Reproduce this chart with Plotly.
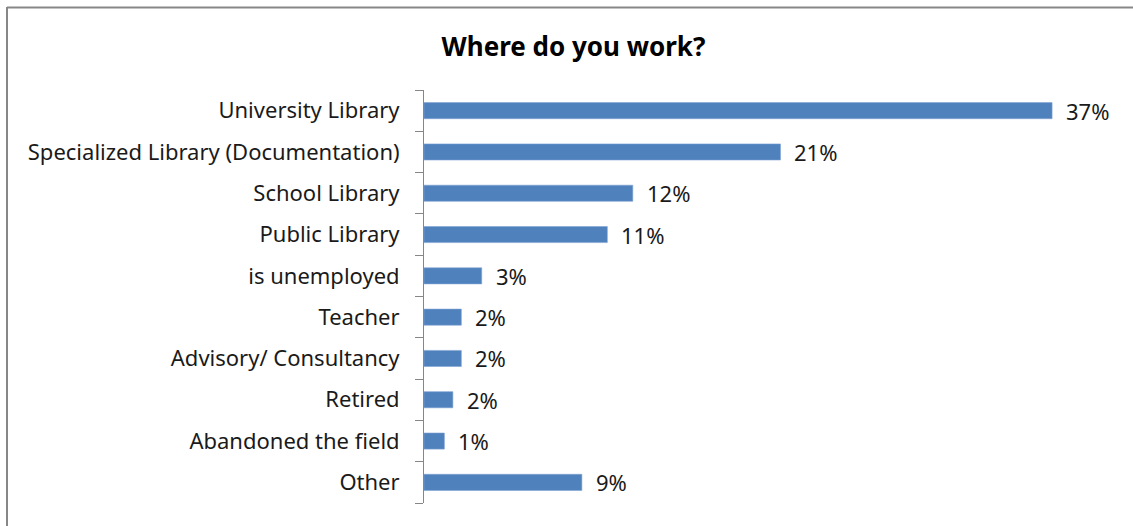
import plotly.graph_objects as go

categories = ["University Library", "Specialized Library (Documentation)", "School Library",
              "Public Library", "is unemployed", "Teacher", "Advisory/ Consultancy",
              "Retired", "Abandoned the field", "Other"]
values = [37.0, 21.0, 12.3, 10.8, 3.4, 2.2, 2.2, 1.7, 1.2, 9.3]
labels = ["37%", "21%", "12%", "11%", "3%", "2%", "2%", "2%", "1%", "9%"]

FONT = "Noto Sans"
W, H = 1133, 526
L, R, T, B = 424, 30, 90, 23

fig = go.Figure(go.Bar(
    x=values, y=categories, orientation="h",
    marker=dict(color="#4F81BD", line=dict(color="#7FA3D3", width=0.6)),
    width=0.39, hoverinfo="skip",
))

annotations = [dict(x=v, y=c, text=t, xref="x", yref="y", xanchor="left", yanchor="middle",
                    xshift=12, showarrow=False, font=dict(family=FONT, size=22, color="#1a1a1a"))
               for v, c, t in zip(values, categories, labels)]

pw, ph = W - L - R, H - T - B
def px(xp):
    return (xp - L) / pw
def py(yp):
    return (H - B - yp) / ph

shapes = [
    dict(type="line", xref="paper", yref="paper", x0=px(7), x1=px(W + 5), y0=py(7.5), y1=py(7.5),
         line=dict(color="#878787", width=2)),
    dict(type="line", xref="paper", yref="paper", x0=px(7), x1=px(7), y0=py(7), y1=py(H + 5),
         line=dict(color="#878787", width=2)),
]

fig.update_layout(
    width=W, height=H,
    margin=dict(l=L, r=R, t=T, b=B),
    paper_bgcolor="white", plot_bgcolor="white",
    title=dict(text="<b>Where do you work?</b>", x=573.5 / W, xanchor="center",
               y=1 - 47 / H, yanchor="middle",
               font=dict(family=FONT, size=26, color="black")),
    xaxis=dict(range=[0, 40], visible=False, fixedrange=True),
    yaxis=dict(categoryorder="array", categoryarray=categories[::-1], autorange=False,
               range=[-0.5, len(categories) - 0.5], fixedrange=True,
               showline=True, linecolor="#868686", linewidth=1,
               ticks="outside", tickson="boundaries", ticklen=8, tickcolor="#868686",
               showgrid=False, ticklabelstandoff=19,
               tickfont=dict(family=FONT, size=22, color="#1a1a1a")),
    annotations=annotations, shapes=shapes, showlegend=False,
)
fig.write_html("out.html", config={"displayModeBar": False},
               post_script="document.body.style.margin='0';document.body.style.overflow='hidden';")
